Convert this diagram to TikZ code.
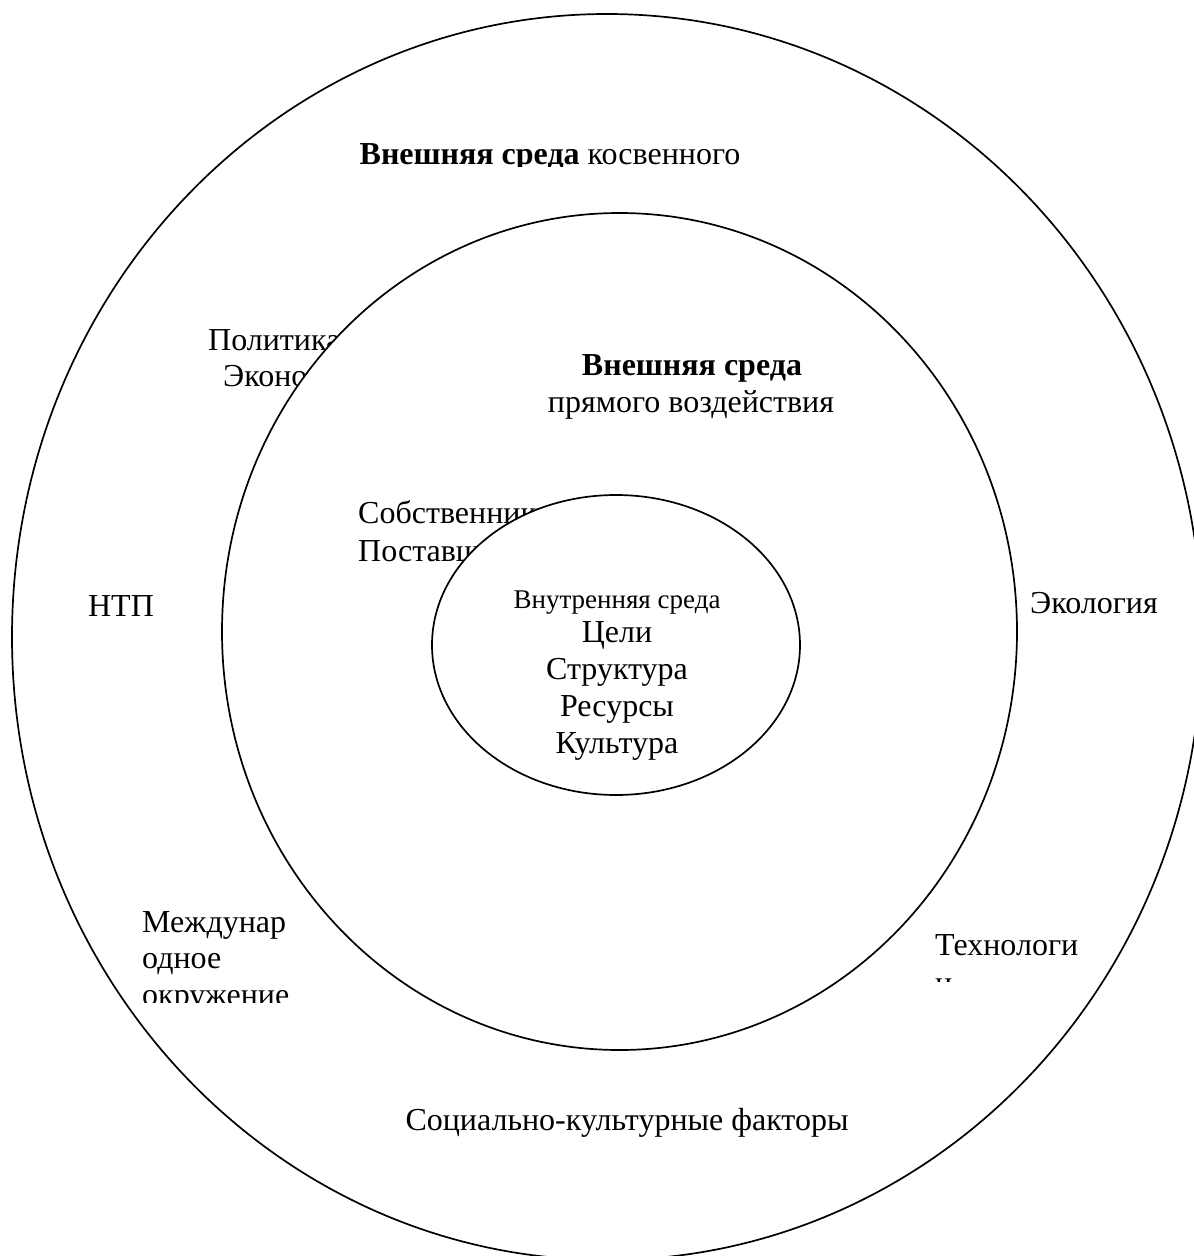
\documentclass[tikz,border=0pt]{standalone}
\usepackage{fontspec}
\setmainfont{Liberation Serif}
\usetikzlibrary{shapes.geometric}
\tikzset{
 ring/.style={ellipse, draw, line width=1.7pt, inner sep=0pt},
 txt/.style={font=\fontsize{32}{37}\selectfont, inner sep=0pt, anchor=base},
 txtl/.style={txt, anchor=base west},
 smalltxt/.style={font=\fontsize{27}{30}\selectfont, inner sep=0pt, anchor=base}
}

\begin{document}
\begin{tikzpicture}[x=1pt,y=-1pt]
\useasboundingbox (0,0) rectangle (1194,1256);
\clip (0,0) rectangle (1194,1256);

% outer ring
\node[ring, minimum width=1190pt, minimum height=1246pt] (outer) at (607,637) {};

\begin{scope}
\clip (300,100) rectangle (800,166);
\node[txt] (kosv) at (550,164) {\textbf{Внешняя среда} косвенного};
\end{scope}

\node[txtl] (pol) at (208,350) {Политика};
\node[txtl] (ekon) at (223,386) {Экономика};
\node[txt] (ntp) at (121,616) {НТП};
\node[txt] (eko) at (1094,613) {Экология};

\begin{scope}
\clip (100,880) rectangle (330,1002);
\node[txtl] (mezh1) at (142,932) {Междунар};
\node[txtl] (mezh2) at (142,968) {одное};
\node[txtl] (mezh3) at (142,1005) {окружение};
\end{scope}

\node[txtl] (tech1) at (935,955) {Технологи};
\begin{scope}
\clip (900,960) rectangle (1150,981);
\node[txtl] (tech2) at (935,993) {и};
\end{scope}

\node[txt] (soc) at (627,1130) {Социально-культурные факторы};

% middle ring
\node[ring, fill=white, minimum width=795pt, minimum height=837pt] (mid) at (619.5,631.5) {};

\node[txt] (pryam1) at (692,375) {\textbf{Внешняя среда}};
\node[txt] (pryam2) at (691,412) {прямого воздействия};
\node[txtl] (sob) at (358,523) {Собственники};
\node[txtl] (post) at (358,561) {Поставщики};

% inner ring
\node[ring, fill=white, minimum width=368pt, minimum height=300pt] (inner) at (616,645) {};

\node[smalltxt] (vnutr) at (617,608) {Внутренняя среда};
\foreach \t [count=\i] in {Цели,Структура,Ресурсы,Культура}
  \node[txt] (vn\i) at (617,605+37*\i) {\t};
\end{tikzpicture}
\end{document}
